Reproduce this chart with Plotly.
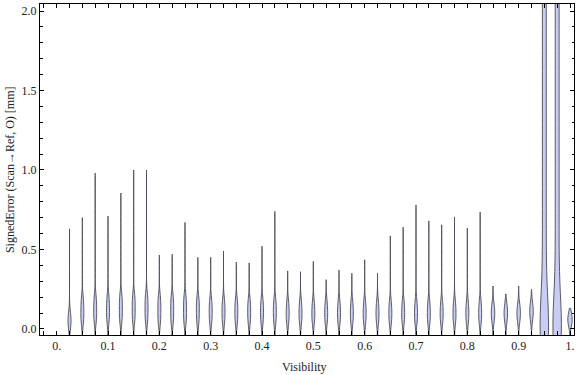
import plotly.graph_objects as go

# Visibility bins (category positions)
visibility = [0.025, 0.05, 0.075, 0.1, 0.125, 0.15, 0.175, 0.2, 0.225, 0.25,
              0.275, 0.3, 0.325, 0.35, 0.375, 0.4, 0.425, 0.45, 0.475, 0.5,
              0.525, 0.55, 0.575, 0.6, 0.625, 0.65, 0.675, 0.7, 0.725, 0.75,
              0.775, 0.8, 0.825, 0.85, 0.875, 0.9, 0.925, 0.95, 0.975, 1.0]

# Distribution summary (signed error, mm)
err_q1 = [0.02, 0.05, 0.06, 0.06, 0.06, 0.06, 0.06, 0.05, 0.05, 0.05,
          0.05, 0.05, 0.05, 0.05, 0.05, 0.05, 0.05, 0.05, 0.05, 0.05,
          0.05, 0.05, 0.05, 0.05, 0.05, 0.05, 0.05, 0.05, 0.05, 0.05,
          0.05, 0.05, 0.05, 0.06, 0.06, 0.06, 0.07, 0.0, 0.0, 0.03]
err_median = [0.05, 0.11, 0.12, 0.12, 0.13, 0.13, 0.13, 0.12, 0.12, 0.12,
              0.12, 0.11, 0.11, 0.11, 0.11, 0.11, 0.11, 0.10, 0.10, 0.10,
              0.10, 0.10, 0.10, 0.10, 0.10, 0.10, 0.10, 0.10, 0.10, 0.10,
              0.10, 0.10, 0.10, 0.10, 0.10, 0.10, 0.11, 0.0, 0.0, 0.06]
err_q3 = [0.09, 0.18, 0.19, 0.19, 0.20, 0.20, 0.20, 0.19, 0.19, 0.19,
          0.18, 0.17, 0.17, 0.17, 0.17, 0.17, 0.17, 0.16, 0.16, 0.16,
          0.16, 0.16, 0.16, 0.16, 0.16, 0.16, 0.16, 0.16, 0.16, 0.16,
          0.16, 0.16, 0.16, 0.14, 0.14, 0.14, 0.15, 0.0, 0.0, 0.09]
err_max = [0.63, 0.70, 0.98, 0.71, 0.855, 1.0, 1.0, 0.465, 0.47, 0.67,
           0.45, 0.45, 0.49, 0.42, 0.415, 0.52, 0.74, 0.365, 0.36, 0.425,
           0.31, 0.37, 0.35, 0.435, 0.35, 0.585, 0.64, 0.78, 0.68, 0.655,
           0.705, 0.635, 0.735, 0.27, 0.22, 0.27, 0.25, 4.0, 4.0, 0.13]

# The two wide bins (0.95 and 0.975) run far past the top of the frame
wide_samples_095 = [-0.1, -0.05, 0.0, 0.05, 0.1, 0.35, 0.57, 0.79, 1.01, 1.23,
                    1.45, 1.67, 1.89, 2.11, 2.33, 2.55, 2.77, 2.99, 3.21, 3.43]
wide_samples_0975 = [-0.1, -0.05, 0.0, 0.05, 0.1, 0.35, 0.57, 0.79, 1.01, 1.23,
                     1.45, 1.67, 1.89, 2.11, 2.33, 2.55, 2.77, 2.99, 3.21, 3.43]

x_ticks = [0, 0.1, 0.2, 0.3, 0.4, 0.5, 0.6, 0.7, 0.8, 0.9, 1.0]
x_ticktext = ["0.", "0.1", "0.2", "0.3", "0.4", "0.5", "0.6", "0.7", "0.8", "0.9", "1."]
y_ticks = [0, 0.5, 1.0, 1.5, 2.0]
y_ticktext = ["0.0", "0.5", "1.0", "1.5", "2.0"]

FILL = "rgb(199,205,243)"
EDGE = "rgba(75,75,88,0.9)"

fig = go.Figure()
for i, pos in enumerate(visibility):
    if abs(pos - 0.95) < 1e-9:
        samples, bw, lo, w = wide_samples_095, 0.2, -0.3, 0.0165
    elif abs(pos - 0.975) < 1e-9:
        samples, bw, lo, w = wide_samples_0975, 0.2, -0.3, 0.0165
    else:
        samples = [err_q1[i], err_median[i], err_q3[i]]
        bw = 0.045 if pos < 0.99 else 0.035
        lo = -0.06
        w = 0.0058
        if pos >= 0.85:
            w = 0.0068
        if pos >= 0.99:
            w = 0.0085
    fig.add_trace(go.Violin(
        x=[pos] * len(samples), y=samples,
        spanmode="manual", span=[lo, err_max[i]],
        bandwidth=bw, width=w, scalemode="width",
        points=False, box_visible=False, meanline_visible=False,
        fillcolor=FILL, line=dict(color=EDGE, width=1),
        showlegend=False, hoverinfo="skip",
    ))

fig.update_layout(
    width=576, height=375,
    margin=dict(l=40, r=2, t=4, b=40, autoexpand=False),
    paper_bgcolor="white", plot_bgcolor="white",
    violinmode="overlay",
    font=dict(family="Liberation Serif", size=12, color="#222"),
    showlegend=False,
)
fig.update_xaxes(
    range=[-0.0325, 1.0078], automargin=False,
    tickmode="array", tickvals=x_ticks, ticktext=x_ticktext,
    ticks="inside", ticklen=4, tickcolor="black", tickwidth=1,
    minor=dict(tickmode="linear", tick0=0, dtick=0.025, ticks="inside",
               ticklen=4, tickcolor="black", tickwidth=1),
    showline=True, linecolor="black", linewidth=1, mirror="ticks",
    showgrid=False, zeroline=False,
)
fig.update_yaxes(
    range=[-0.038, 2.044], automargin=False,
    tickmode="array", tickvals=y_ticks, ticktext=y_ticktext,
    ticks="inside", ticklen=4, tickcolor="black", tickwidth=1,
    minor=dict(tickmode="linear", tick0=0, dtick=0.1, ticks="inside",
               ticklen=2.5, tickcolor="black", tickwidth=1),
    showline=True, linecolor="black", linewidth=1, mirror="ticks",
    showgrid=False, zeroline=False,
)

fig.add_annotation(text="Visibility", xref="paper", yref="paper",
                   x=0.496, y=-0.097, xanchor="center", yanchor="middle",
                   showarrow=False, font=dict(size=12, color="#222"))
fig.add_annotation(text="SignedError (Scan\u2192Ref, O) [mm]", xref="paper", yref="paper",
                   x=-0.056, y=0.4985, xanchor="center", yanchor="middle",
                   textangle=-90, showarrow=False, font=dict(size=12, color="#222"))

fig.write_html("out.html", config={"displayModeBar": False},
               post_script="document.body.style.margin='0px';")
